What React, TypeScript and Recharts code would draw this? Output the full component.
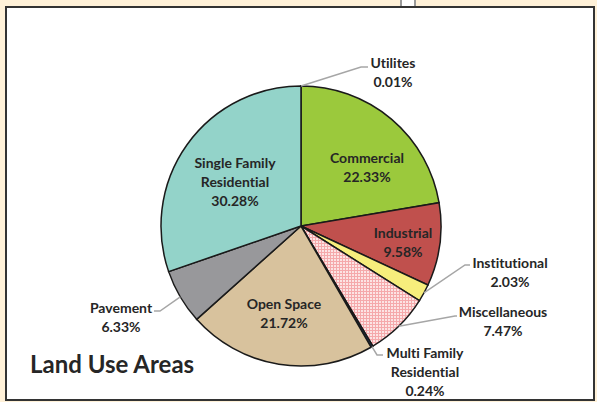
import { Cell, Pie, PieChart } from 'recharts'

const categories = [
  'Utilites',
  'Commercial',
  'Industrial',
  'Institutional',
  'Miscellaneous',
  'Multi Family Residential',
  'Open Space',
  'Pavement',
  'Single Family Residential',
]
const shares = [0.01, 22.33, 9.58, 2.03, 7.47, 0.24, 21.72, 6.33, 30.28]

const data = categories.map((name, i) => ({ name, value: shares[i] }))

const fills: Record<string, string> = {
  Utilites: '#4f81bd',
  Commercial: '#9bc93c',
  Industrial: '#c0504d',
  Institutional: '#f7ee7c',
  Miscellaneous: 'url(#miscPattern)',
  'Multi Family Residential': '#1f3864',
  'Open Space': '#d8c29d',
  Pavement: '#98989b',
  'Single Family Residential': '#93d3c9',
}

// label placement relative to the pie centre; outside labels get an elbow leader line
type LabelSpot = {
  lines: string[]
  x: number
  y: number
  elbow?: [number, number]
  end?: [number, number]
}
const labelSpots: Record<string, LabelSpot> = {
  Utilites: { lines: ['Utilites'], x: 92, y: -155, elbow: [60, -159], end: [67, -159] },
  Commercial: { lines: ['Commercial'], x: 66, y: -60 },
  Industrial: { lines: ['Industrial'], x: 102, y: 15 },
  Institutional: { lines: ['Institutional'], x: 209, y: 45, elbow: [164, 39], end: [169, 39] },
  Miscellaneous: { lines: ['Miscellaneous'], x: 202, y: 94, elbow: [154, 90], end: [156, 90] },
  'Multi Family Residential': {
    lines: ['Multi Family', 'Residential'],
    x: 124,
    y: 145,
    elbow: [76, 129],
    end: [82, 129],
  },
  'Open Space': { lines: ['Open Space'], x: -17, y: 86 },
  Pavement: { lines: ['Pavement'], x: -180, y: 90, elbow: [-141, 85], end: [-147, 85] },
  'Single Family Residential': { lines: ['Single Family', 'Residential'], x: -66, y: -45 },
}

const RADIAN = Math.PI / 180
const FONT = 'Lato, "Open Sans", sans-serif'

const renderLabel = (props: any) => {
  const { cx, cy, midAngle, outerRadius, name, value } = props
  const spot = labelSpots[name]
  if (!spot) return null
  const rows = [...spot.lines, `${Number(value).toFixed(2)}%`]
  const lx = cx + spot.x
  const top = cy + spot.y - ((rows.length - 1) * 19) / 2
  let leader = null
  if (spot.elbow && spot.end) {
    const sx = cx + outerRadius * Math.cos(-midAngle * RADIAN)
    const sy = cy + outerRadius * Math.sin(-midAngle * RADIAN)
    const pts = `${sx},${sy} ${cx + spot.elbow[0]},${cy + spot.elbow[1]} ${cx + spot.end[0]},${cy + spot.end[1]}`
    leader = <polyline points={pts} fill="none" stroke="#a6a6a6" strokeWidth={1.5} />
  }
  return (
    <g>
      {leader}
      <text
        x={lx}
        y={top}
        textAnchor="middle"
        dominantBaseline="central"
        fill="#262626"
        fontFamily={FONT}
        fontWeight={700}
        fontSize={14}
        style={{ fontVariantLigatures: 'none' }}
      >
        {rows.map((r, i) => (
          <tspan key={i} x={lx} dy={i === 0 ? 0 : 19}>
            {r}
          </tspan>
        ))}
      </text>
    </g>
  )
}

export default function App() {
  return (
    <div
      style={{
        position: 'absolute',
        left: 0,
        top: 0,
        width: 597,
        height: 402,
        background: '#fff1d8',
        overflow: 'hidden',
      }}
    >
      <div
        style={{
          position: 'absolute',
          left: 400,
          top: 0,
          width: 12,
          height: 7,
          background: '#fff',
          borderLeft: '2px solid #9a9a9a',
          borderRight: '2px solid #9a9a9a',
        }}
      />
      <div
        style={{
          position: 'absolute',
          left: 5,
          top: 6,
          width: 586,
          height: 391,
          background: '#fff',
          border: '2px solid #333',
        }}
      />
      <div style={{ position: 'absolute', left: 0, top: 0 }}>
        <PieChart width={597} height={402} margin={{ top: 0, right: 0, bottom: 0, left: 0 }}>
          <defs>
            <pattern id="miscPattern" width={3} height={3} patternUnits="userSpaceOnUse">
              <rect width={3} height={3} fill="#f5a9ab" />
              <rect x={1} y={1} width={2} height={2} fill="#fce4e4" />
            </pattern>
          </defs>
          <Pie
            data={data}
            dataKey="value"
            nameKey="name"
            cx={301}
            cy={226}
            outerRadius={140}
            startAngle={90}
            endAngle={-270}
            stroke="#1a1a1a"
            strokeWidth={1.5}
            label={renderLabel}
            labelLine={false}
            isAnimationActive={false}
          >
            {data.map((d) => (
              <Cell key={d.name} fill={fills[d.name]} />
            ))}
          </Pie>
        </PieChart>
      </div>
      <div
        style={{
          position: 'absolute',
          left: 30,
          top: 349,
          fontFamily: FONT,
          fontWeight: 700,
          fontSize: 24,
          color: '#262626',
          lineHeight: '30px',
        }}
      >
        Land Use Areas
      </div>
    </div>
  )
}
